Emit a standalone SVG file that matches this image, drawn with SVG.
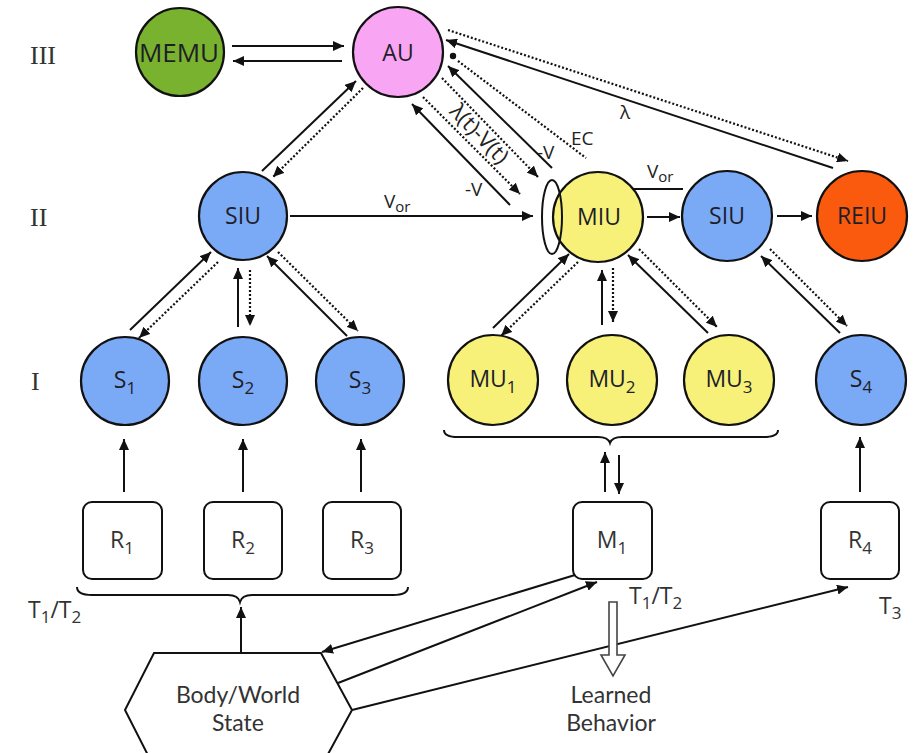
<svg xmlns="http://www.w3.org/2000/svg" width="922" height="753" viewBox="0 0 922 753">
<style>
.node{stroke:#111;stroke-width:2.2}
.lbl{font-family:"Open Sans","Liberation Sans",sans-serif;font-size:23px;fill:#1e1e28;text-anchor:middle}
.two{font-family:Lato,"Open Sans",sans-serif;font-size:23px;fill:#333;text-anchor:middle}
.sm{font-family:"Open Sans","Liberation Sans",sans-serif;font-size:19px;fill:#222}
.lvl{font-family:"Liberation Serif",serif;font-size:26px;fill:#333}
.box{fill:#fff;stroke:#111;stroke-width:2}
.s{fill:none;stroke:#111;stroke-width:2}
.d{fill:none;stroke:#111;stroke-width:2.2;stroke-dasharray:2 2}
.blue{fill:#7aa9f6}
.yel{fill:#f7f17a}
</style>
<defs>
<marker id="ah" markerUnits="userSpaceOnUse" markerWidth="12" markerHeight="10" refX="11" refY="5" orient="auto"><path d="M0,0 L11,5 L0,10 z" fill="#111"/></marker>
</defs>
<rect width="922" height="753" fill="#fff"/>

<g id="levels">
<text class="lvl" x="30" y="64">III</text>
<text class="lvl" x="30" y="226">II</text>
<text class="lvl" x="31" y="390">I</text>
</g>

<g id="connectors">
<line class="s" x1="232" y1="46" x2="344" y2="46" marker-end="url(#ah)"/>
<line class="s" x1="342" y1="61" x2="233" y2="61" marker-end="url(#ah)"/>
<line class="s" x1="262" y1="171" x2="356" y2="81" marker-end="url(#ah)"/>
<line class="d" x1="363" y1="88" x2="273" y2="177" marker-end="url(#ah)"/>
<line class="s" x1="510" y1="205" x2="412" y2="104" marker-end="url(#ah)"/>
<line class="d" x1="423" y1="97" x2="520" y2="194" marker-end="url(#ah)"/>
<line class="d" x1="442" y1="78" x2="538" y2="177" marker-end="url(#ah)"/>
<line class="s" x1="552" y1="168" x2="448" y2="66" marker-end="url(#ah)"/>
<circle cx="453" cy="56" r="3.2" fill="#111"/>
<line class="d" x1="458" y1="61" x2="586" y2="158"/>
<line class="d" x1="448" y1="30" x2="848" y2="161" marker-end="url(#ah)"/>
<line class="s" x1="833" y1="168" x2="446" y2="40" marker-end="url(#ah)"/>
<line class="s" x1="290" y1="216" x2="533" y2="216" marker-end="url(#ah)"/>
<line class="s" x1="683" y1="189" x2="566" y2="189" marker-end="url(#ah)"/>
<line class="s" x1="647" y1="217" x2="680" y2="217" marker-end="url(#ah)"/>
<line class="s" x1="777" y1="216" x2="812" y2="216" marker-end="url(#ah)"/>
<line class="s" x1="130" y1="330" x2="211" y2="252" marker-end="url(#ah)"/>
<line class="d" x1="218" y1="262" x2="139" y2="338" marker-end="url(#ah)"/>
<line class="s" x1="238" y1="327" x2="238" y2="268" marker-end="url(#ah)"/>
<line class="d" x1="250" y1="270" x2="250" y2="326" marker-end="url(#ah)"/>
<line class="s" x1="347" y1="336" x2="267" y2="256" marker-end="url(#ah)"/>
<line class="d" x1="278" y1="252" x2="358" y2="331" marker-end="url(#ah)"/>
<line class="s" x1="493" y1="328" x2="569" y2="254" marker-end="url(#ah)"/>
<line class="d" x1="578" y1="262" x2="501" y2="336" marker-end="url(#ah)"/>
<line class="s" x1="602" y1="325" x2="602" y2="270" marker-end="url(#ah)"/>
<line class="d" x1="613" y1="268" x2="613" y2="322" marker-end="url(#ah)"/>
<line class="s" x1="708" y1="333" x2="628" y2="255" marker-end="url(#ah)"/>
<line class="d" x1="639" y1="249" x2="717" y2="327" marker-end="url(#ah)"/>
<line class="s" x1="840" y1="333" x2="761" y2="256" marker-end="url(#ah)"/>
<line class="d" x1="770" y1="249" x2="847" y2="326" marker-end="url(#ah)"/>
<line class="s" x1="124" y1="492" x2="124" y2="439" marker-end="url(#ah)"/>
<line class="s" x1="243" y1="492" x2="243" y2="439" marker-end="url(#ah)"/>
<line class="s" x1="361" y1="492" x2="361" y2="439" marker-end="url(#ah)"/>
<line class="s" x1="605" y1="492" x2="605" y2="452" marker-end="url(#ah)"/>
<line class="s" x1="619" y1="455" x2="619" y2="494" marker-end="url(#ah)"/>
<line class="s" x1="860" y1="492" x2="860" y2="437" marker-end="url(#ah)"/>
<path class="s" d="M77 587 Q77 595 92 595 L228 595 Q238 595 240 602 Q242 595 252 595 L393 595 Q408 595 408 587"/>
<path class="s" d="M444 430 Q444 437 458 437 L598 437 Q608 437 610 443 Q612 437 622 437 L763 437 Q778 437 778 430"/>
<line class="s" x1="241" y1="653" x2="241" y2="607" marker-end="url(#ah)"/>
<line class="s" x1="575" y1="575" x2="322" y2="652" marker-end="url(#ah)"/>
<line class="s" x1="338" y1="683" x2="597" y2="582" marker-end="url(#ah)"/>
<line class="s" x1="352" y1="710" x2="848" y2="587" marker-end="url(#ah)"/>
<path d="M609 602 L617 602 L617 655 L625 655 L613 676 L601 655 L609 655 Z" fill="#fff" stroke="#444" stroke-width="1.6"/>
</g>

<g id="connector-labels">
<text class="sm" x="384" y="208">V<tspan style="font-size:15px" dy="4">or</tspan></text>
<text class="sm" x="647" y="178">V<tspan style="font-size:15px" dy="4">or</tspan></text>
<text class="sm" x="465" y="196">-V</text>
<text class="sm" x="537" y="159">-V</text>
<text class="sm" x="571" y="145">EC</text>
<text class="sm" x="620" y="119">λ</text>
<text class="sm" transform="translate(479 134) rotate(46)" dy="7" style="font-size:22px;text-anchor:middle">λ(t)-V(t)</text>
</g>

<g id="MEMU"><circle class="node" cx="180" cy="52" r="44" fill="#79b22e"/><text class="lbl" x="179" y="62" style="font-size:26px">MEMU</text></g>
<g id="AU"><circle class="node" cx="398" cy="52" r="45" fill="#f8a5f4"/><text class="lbl" x="398" y="61">AU</text></g>
<g id="SIU1"><circle class="node blue" cx="243" cy="216" r="44"/><text class="lbl" x="243" y="224">SIU</text></g>
<g id="MIU"><circle class="node yel" cx="598" cy="217" r="45"/><text class="lbl" x="599" y="225">MIU</text>
<ellipse cx="552" cy="217" rx="10" ry="37" fill="none" stroke="#111" stroke-width="2"/></g>
<g id="SIU2"><circle class="node blue" cx="727" cy="216" r="45"/><text class="lbl" x="727" y="224">SIU</text></g>
<g id="REIU"><circle class="node" cx="862" cy="216" r="45" fill="#fa5a0e"/><text class="lbl" x="862" y="224">REIU</text></g>

<g id="S1"><circle class="node blue" cx="125" cy="381" r="44"/><text class="lbl" x="125" y="388">S<tspan style="font-size:17px" dy="6">1</tspan></text></g>
<g id="S2"><circle class="node blue" cx="243" cy="381" r="44"/><text class="lbl" x="243" y="388">S<tspan style="font-size:17px" dy="6">2</tspan></text></g>
<g id="S3"><circle class="node blue" cx="360" cy="381" r="44"/><text class="lbl" x="360" y="388">S<tspan style="font-size:17px" dy="6">3</tspan></text></g>
<g id="MU1"><circle class="node yel" cx="493" cy="380" r="45"/><text class="lbl" x="493" y="387">MU<tspan style="font-size:17px" dy="6">1</tspan></text></g>
<g id="MU2"><circle class="node yel" cx="612" cy="380" r="45"/><text class="lbl" x="612" y="387">MU<tspan style="font-size:17px" dy="6">2</tspan></text></g>
<g id="MU3"><circle class="node yel" cx="729" cy="380" r="45"/><text class="lbl" x="729" y="387">MU<tspan style="font-size:17px" dy="6">3</tspan></text></g>
<g id="S4"><circle class="node blue" cx="861" cy="380" r="45"/><text class="lbl" x="861" y="387">S<tspan style="font-size:17px" dy="6">4</tspan></text></g>

<g id="R1"><rect class="box" x="83" y="502" width="79" height="77" rx="9"/><text class="lbl" x="122" y="548" style="fill:#333">R<tspan style="font-size:17px" dy="6">1</tspan></text></g>
<g id="R2"><rect class="box" x="204" y="502" width="78" height="77" rx="9"/><text class="lbl" x="243" y="548" style="fill:#333">R<tspan style="font-size:17px" dy="6">2</tspan></text></g>
<g id="R3"><rect class="box" x="323" y="502" width="78" height="77" rx="9"/><text class="lbl" x="362" y="548" style="fill:#333">R<tspan style="font-size:17px" dy="6">3</tspan></text></g>
<g id="M1"><rect class="box" x="573" y="502" width="79" height="77" rx="9"/><text class="lbl" x="612" y="548" style="fill:#333">M<tspan style="font-size:17px" dy="6">1</tspan></text></g>
<g id="R4"><rect class="box" x="821" y="502" width="78" height="77" rx="9"/><text class="lbl" x="860" y="548" style="fill:#333">R<tspan style="font-size:17px" dy="6">4</tspan></text></g>

<g id="BodyWorld"><path d="M154 653 L321 653 L352 710 L321 767 L154 767 L125 710 Z" fill="#fff" stroke="#111" stroke-width="2"/>
<text class="two" x="238" y="703">Body/World</text><text class="two" x="238" y="731">State</text></g>

<g id="LearnedBehavior"><text class="two" x="611" y="703">Learned</text><text class="two" x="611" y="731">Behavior</text></g>

<g id="T-labels">
<text class="lbl" x="28" y="618" style="fill:#333;text-anchor:start">T<tspan style="font-size:17px" dy="5">1</tspan><tspan dy="-5">/T</tspan><tspan style="font-size:17px" dy="5">2</tspan></text>
<text class="lbl" x="629" y="604" style="fill:#333;text-anchor:start">T<tspan style="font-size:17px" dy="5">1</tspan><tspan dy="-5">/T</tspan><tspan style="font-size:17px" dy="5">2</tspan></text>
<text class="lbl" x="879" y="614" style="fill:#333;text-anchor:start">T<tspan style="font-size:17px" dy="5">3</tspan></text>
</g>
</svg>
